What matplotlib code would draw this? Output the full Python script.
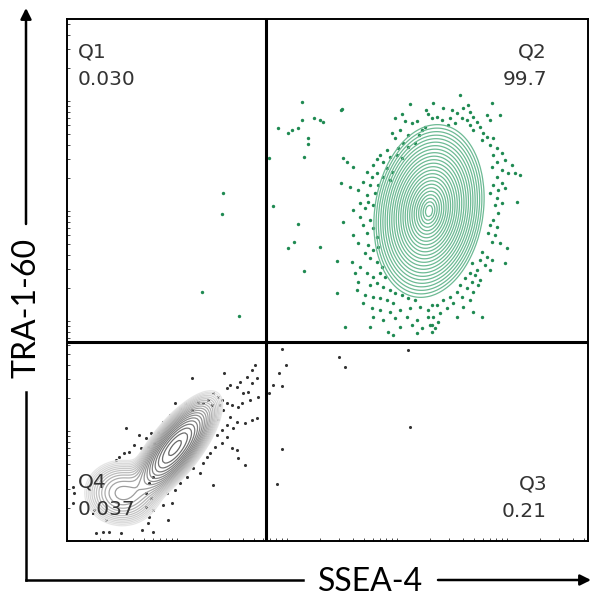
import numpy as np
import matplotlib
matplotlib.use("Agg")
import matplotlib.pyplot as plt

# gate positions (arbitrary fluorescence units)
gate_x = 199
gate_y = 199

# quadrant frequencies (%)
quad_names = ["Q1", "Q2", "Q3", "Q4"]
quad_values = ["0.030", "99.7", "0.21", "0.037"]

# double positive population (Q2): centre, sd along major / minor axis, tilt (deg)
pos_center = [362, 330]
pos_sd = [29, 18]
pos_angle = 81

# double negative population (Q4): main peak + faint tail
neg_center = [108, 93]
neg_sd = [23, 8.5]
neg_angle = 52
neg_tail_center = [55, 48]
neg_tail_sd = [16, 14]
neg_tail_weight = 0.15

# outlying events
green_pts = [
    (343, 437), (275, 432), (359, 431), (361, 427), (365, 423), (335, 427), (328, 423), (338, 420),
    (345, 418), (350, 420), (333, 411), (325, 408), (328, 403), (341, 406), (355, 411), (358, 414),
    (352, 406), (348, 398), (341, 394), (336, 398), (331, 393), (320, 391), (313, 386), (310, 382),
    (323, 384), (330, 386), (335, 383), (276, 383), (280, 379), (286, 374), (306, 376), (316, 379),
    (320, 373), (325, 369), (300, 369), (305, 364), (310, 368), (316, 364), (323, 361), (296, 359),
    (303, 356), (311, 356), (283, 354), (291, 351), (300, 346), (308, 348), (293, 338), (301, 339),
    (306, 336), (286, 331), (298, 333),
    (393, 446), (366, 438), (425, 438), (433, 426), (376, 433), (385, 431), (390, 428), (396, 433),
    (401, 436), (403, 429), (370, 424), (375, 421), (383, 423), (395, 423), (400, 421), (406, 424),
    (410, 419), (420, 426), (423, 421), (381, 416), (388, 418), (403, 416), (413, 414), (406, 411),
    (416, 408), (420, 404), (415, 401), (426, 403), (423, 396), (430, 393), (435, 388), (426, 386),
    (438, 381), (430, 379), (445, 376), (425, 374), (435, 371), (441, 368), (448, 368), (453, 366),
    (430, 364), (435, 358), (426, 356), (431, 351), (438, 353), (423, 348), (430, 343), (435, 338),
    (450, 339), (428, 336),
    (276, 319), (293, 324), (296, 316), (303, 321), (306, 313), (300, 308), (310, 304), (286, 306),
    (291, 298), (301, 296), (306, 291), (311, 294), (298, 288), (303, 283), (310, 279), (315, 274),
    (285, 279), (293, 274), (288, 268), (300, 268), (306, 264), (313, 268), (318, 264), (291, 259),
    (303, 256), (310, 258), (316, 254), (323, 251), (328, 248), (335, 246), (341, 243), (348, 241),
    (290, 251), (298, 246), (306, 244), (313, 243), (320, 241), (326, 238), (296, 238), (305, 233),
    (313, 231), (323, 229), (333, 231), (343, 233), (353, 234), (361, 231), (365, 236), (306, 224),
    (316, 221), (328, 223), (340, 224), (350, 221), (361, 224), (278, 214), (303, 214), (321, 209),
    (333, 214), (345, 216), (355, 213), (363, 216), (326, 206), (350, 208), (365, 209),
    (431, 328), (426, 321), (423, 316), (430, 314), (421, 308), (428, 306), (433, 298), (425, 299),
    (440, 293), (415, 289), (420, 284), (425, 281), (413, 281), (418, 276), (438, 278), (423, 271),
    (405, 278), (410, 271), (403, 268), (408, 266), (413, 261), (398, 263), (405, 259), (411, 256),
    (393, 256), (400, 253), (406, 249), (390, 249), (383, 244), (395, 244), (403, 241), (376, 241),
    (386, 238), (396, 234), (370, 236), (380, 233), (406, 229), (373, 228), (390, 224), (415, 224),
    (366, 224), (371, 219), (365, 216), (368, 213),
    (235, 439), (274, 431), (211, 413), (221, 408), (225, 411), (231, 413), (235, 421), (247, 423),
    (253, 421), (256, 419), (241, 403), (241, 397), (237, 384), (202, 383), (274, 358), (206, 335),
    (231, 317), (227, 299), (221, 293), (253, 294), (270, 280), (237, 270), (270, 248),
    (156, 348), (155, 327), (135, 249), (172, 225),
]

gray_pts = [
    (215, 192), (219, 176), (212, 168), (215, 155), (272, 184), (278, 174), (215, 92), (210, 57),
    (206, 156), (202, 148), (343, 114), (341, 191),
    (125, 163), (157, 168), (188, 176), (185, 171), (180, 164), (190, 163), (185, 158), (173, 159),
    (170, 154), (163, 156), (160, 153), (181, 149), (176, 148), (191, 144), (183, 141), (146, 148),
    (151, 144), (155, 141), (141, 141), (136, 138), (131, 139), (145, 136), (153, 136), (160, 138),
    (165, 136), (171, 134), (175, 138), (156, 131), (163, 124), (170, 119), (178, 118), (185, 121),
    (190, 123), (151, 121), (160, 116), (166, 113), (155, 111), (108, 138), (118, 138), (113, 133),
    (125, 131), (103, 126), (96, 119), (150, 106), (160, 104), (155, 98), (148, 94), (165, 93),
    (170, 91), (143, 88), (140, 84), (171, 83), (136, 78), (126, 73), (178, 76), (133, 68),
    (146, 56), (120, 64), (113, 58), (108, 51), (100, 48), (105, 38), (96, 36), (101, 21),
    (59, 113), (72, 106), (79, 103), (84, 108), (91, 109), (87, 98), (81, 94), (74, 93),
    (67, 96), (62, 89), (57, 88), (52, 84), (49, 81), (86, 64), (82, 58), (79, 48),
    (84, 43), (79, 34), (86, 31), (82, 24), (81, 18), (86, 9), (6, 54), (7, 48),
    (6, 38), (29, 8), (36, 9), (42, 9), (54, 8), (27, 31), (39, 21), (75, 11),
]


def gauss2d(X, Y, center, sd, angle):
    t = np.deg2rad(angle)
    dx, dy = X - center[0], Y - center[1]
    u = dx * np.cos(t) + dy * np.sin(t)
    v = -dx * np.sin(t) + dy * np.cos(t)
    return np.exp(-0.5 * ((u / sd[0]) ** 2 + (v / sd[1]) ** 2))


fig = plt.figure(figsize=(5.92, 6.01), dpi=100)
ax = fig.add_axes([67 / 592, 1 - 541 / 601, 521 / 592, 522 / 601])
ax.set_xlim(0, 521)
ax.set_ylim(0, 522)

xx, yy = np.meshgrid(np.arange(0, 522, 2.0), np.arange(0, 523, 2.0))

# Q2 contours
pos_dens = gauss2d(xx, yy, pos_center, pos_sd, pos_angle)
r = np.linspace(3.0, 0.2, 24)
ax.contour(xx, yy, pos_dens, levels=np.exp(-0.5 * r ** 2), colors="#6dba94", linewidths=0.9)

# Q4 contours
neg_dens = gauss2d(xx, yy, neg_center, neg_sd, neg_angle) + \
    neg_tail_weight * gauss2d(xx, yy, neg_tail_center, neg_tail_sd, 0)
neg_levels = np.geomspace(0.01, 0.92, 20)
neg_cols = plt.cm.Greys(np.linspace(0.12, 0.6, len(neg_levels)) ** 0.8)
ax.contour(xx, yy, neg_dens, levels=neg_levels, colors=neg_cols, linewidths=0.9)

g = np.array(green_pts)
ax.scatter(g[:, 0], g[:, 1], s=6, color="#1f8a52", linewidths=0)
k = np.array(gray_pts)
ax.scatter(k[:, 0], k[:, 1], s=5, color="#333333", linewidths=0)

# gates
ax.axvline(gate_x, color="black", lw=2.2, zorder=5)
ax.axhline(gate_y, color="black", lw=2.2, zorder=5)

for s in ["left", "bottom", "top", "right"]:
    ax.spines[s].set_linewidth(1.4)

# log-like decade ticks
dec = 110
tick_pos = [d0 + dec * np.log10(m) for d0 in range(0, 521, dec) for m in range(1, 10)]
tick_pos = [t for t in tick_pos if t < 520]
ax.set_xticks(tick_pos)
ax.set_yticks(tick_pos)
ax.tick_params(direction="in", length=2, width=0.5, labelleft=False, labelbottom=False)

# quadrant labels (figure pixel coordinates)
def ftext(px, py, s, **kw):
    fig.text(px / 592, 1 - py / 601, s, fontsize=14.5, color="#333333",
             family="DejaVu Sans", va="baseline", **kw)

ftext(78, 58, quad_names[0], ha="left")
ftext(78, 85, quad_values[0], ha="left")
ftext(547, 58, quad_names[1], ha="right")
ftext(547, 85, quad_values[1], ha="right")
ftext(547, 490, quad_names[2], ha="right")
ftext(547, 517, quad_values[2], ha="right")
ftext(78, 488, quad_names[3], ha="left")
ftext(78, 515, quad_values[3], ha="left")

# axis arrows and titles
H = 601
lw = 1.8
fig.add_artist(plt.Line2D([26 / 592, 26 / 592], [1 - 580 / H, 1 - 392 / H], color="black", lw=lw))
fig.add_artist(plt.Line2D([26 / 592, 303 / 592], [1 - 580 / H, 1 - 580 / H], color="black", lw=lw))
ax.annotate("", xy=(26, H - 8), xytext=(26, H - 224), xycoords="figure pixels",
            textcoords="figure pixels",
            arrowprops=dict(arrowstyle="-|>", lw=lw, color="black", mutation_scale=16, shrinkA=0, shrinkB=0))
ax.annotate("", xy=(591, H - 580), xytext=(438, H - 580), xycoords="figure pixels",
            textcoords="figure pixels",
            arrowprops=dict(arrowstyle="-|>", lw=lw, color="black", mutation_scale=16, shrinkA=0, shrinkB=0))

fig.text(27 / 592, 1 - 308 / H, "TRA-1-60", rotation=90, ha="center", va="center",
         fontsize=23, family="Lato", color="black")
fig.text(371 / 592, 1 - 582 / H, "SSEA-4", ha="center", va="center",
         fontsize=23, family="Lato", color="black")

fig.savefig("out.png", dpi=100)
